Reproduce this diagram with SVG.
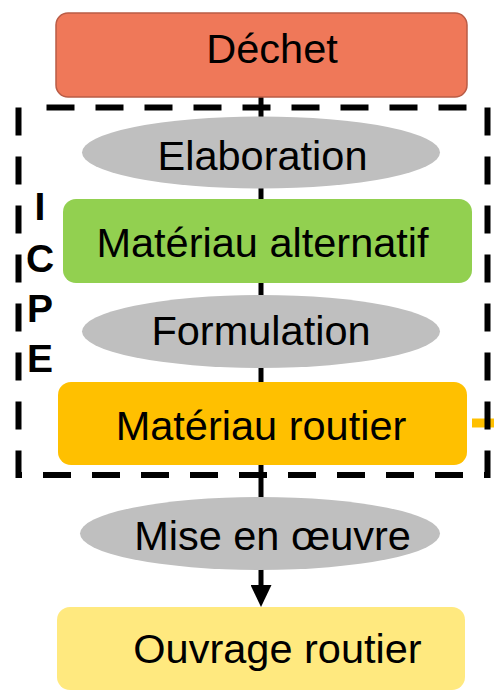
<svg xmlns="http://www.w3.org/2000/svg" width="494" height="692" viewBox="0 0 494 692">
<style>
.t{font-family:"Liberation Sans",Arial,sans-serif;font-size:41.5px;fill:#000;text-anchor:middle}
.l{font-family:"Liberation Sans",Arial,sans-serif;font-size:39px;font-weight:bold;fill:#000;text-anchor:middle}
.ell{fill:#BFBFBF}
.conn{stroke:#000;stroke-width:5;fill:none}
</style>
<defs>
<marker id="ah" markerUnits="userSpaceOnUse" markerWidth="22" markerHeight="21" refX="0" refY="10.5" orient="auto">
<path d="M0,0 L22,10.5 L0,21 Z" fill="#000"/>
</marker>
</defs>
<rect width="494" height="692" fill="#fff"/>
<g id="connectors">
<line class="conn" x1="261" y1="96" x2="261" y2="118"/>
<line class="conn" x1="261" y1="187" x2="261" y2="200"/>
<line class="conn" x1="261" y1="282" x2="261" y2="296"/>
<line class="conn" x1="261" y1="367" x2="261" y2="383"/>
<line class="conn" x1="261" y1="464" x2="261" y2="498"/>
<line class="conn" x1="261" y1="569" x2="261" y2="585" marker-end="url(#ah)"/>
</g>
<g id="dechet">
<rect x="56" y="13" width="411" height="84" rx="12" fill="#EF7859" stroke="#B95C46" stroke-width="1.5"/>
<text class="t" x="272" y="63">Déchet</text>
</g>
<g id="elaboration">
<ellipse class="ell" cx="261" cy="152.5" rx="179" ry="36"/>
<text class="t" x="262.5" y="170">Elaboration</text>
</g>
<g id="materiau-alternatif">
<rect x="63" y="199" width="409" height="84" rx="13" fill="#92D050"/>
<text class="t" x="262.5" y="257">Matériau alternatif</text>
</g>
<g id="formulation">
<ellipse class="ell" cx="261" cy="331.5" rx="179" ry="36.5"/>
<text class="t" x="261" y="345">Formulation</text>
</g>
<g id="orange-stub">
<line x1="472" y1="423" x2="494" y2="423" stroke="#FFC000" stroke-width="9"/>
</g>
<g id="materiau-routier">
<rect x="58" y="382" width="409" height="83" rx="13" fill="#FFC000"/>
<text class="t" x="261" y="440">Matériau routier</text>
</g>
<g id="icpe">
<path d="M18.5,107.5 V475 H487.5 V107.5 H40" fill="none" stroke="#000" stroke-width="6" stroke-dasharray="28 21"/>
<text class="l" x="40" y="220">I</text>
<text class="l" x="40" y="272">C</text>
<text class="l" x="40" y="322">P</text>
<text class="l" x="40" y="372">E</text>
</g>
<g id="mise-en-oeuvre">
<ellipse class="ell" cx="260" cy="533.5" rx="180" ry="36.5"/>
<text class="t" x="272.5" y="550">Mise en œuvre</text>
</g>
<g id="ouvrage-routier">
<rect x="57" y="607" width="408" height="83" rx="13" fill="#FFE97F"/>
<text class="t" x="277.5" y="663">Ouvrage routier</text>
</g>
</svg>
